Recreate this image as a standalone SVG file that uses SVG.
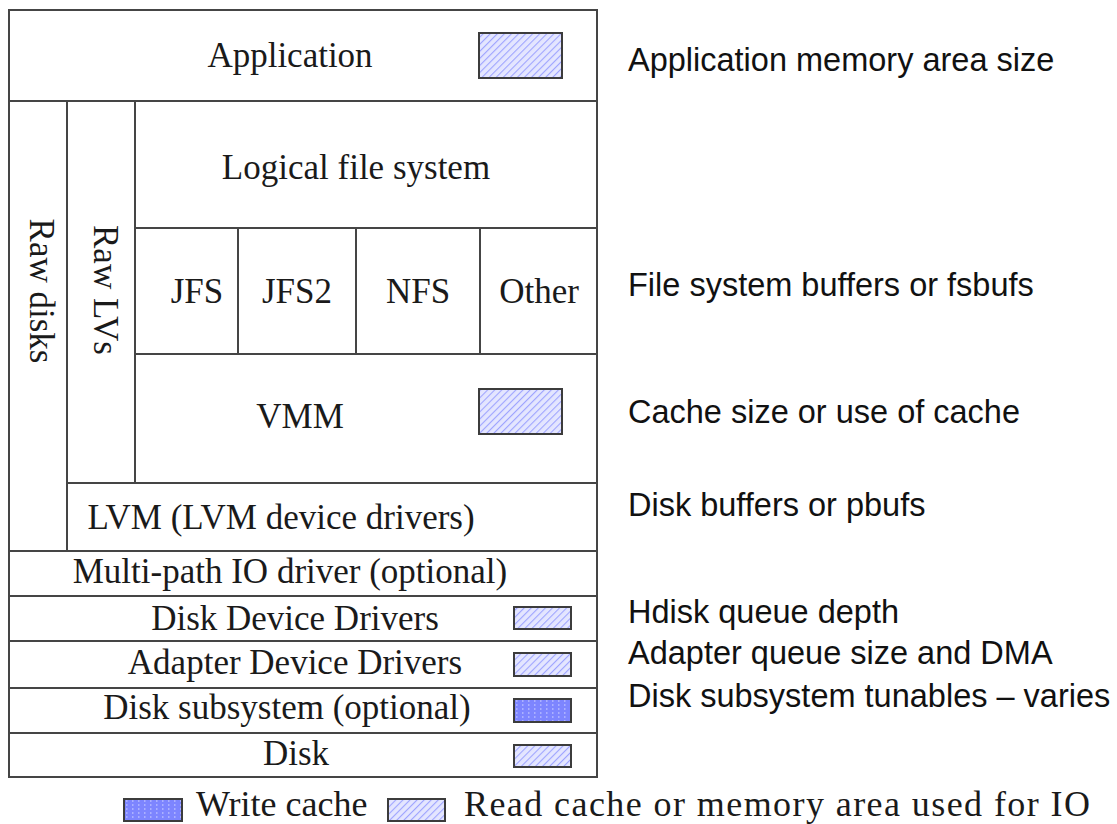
<svg xmlns="http://www.w3.org/2000/svg" width="1117" height="824" viewBox="0 0 1117 824">
  <defs>
    <!-- read cache / memory area: pale blue with diagonal hatching -->
    <pattern id="hatch" patternUnits="userSpaceOnUse" width="5" height="5" patternTransform="rotate(45)">
      <rect width="5" height="5" fill="#e4e6ff"/>
      <line x1="0" y1="0" x2="0" y2="5" stroke="#9ea4ff" stroke-width="2.2"/>
    </pattern>
    <!-- write cache: solid blue with a faint dotted grid -->
    <pattern id="grid" patternUnits="userSpaceOnUse" width="6" height="4">
      <rect width="6" height="4" fill="#7d85ff"/>
      <rect x="0" y="0" width="1.5" height="2" fill="#aab0ff"/>
    </pattern>
    <style>
      .cell { fill: #ffffff; stroke: #454545; stroke-width: 2; }
      .lbl { font-family: "Liberation Serif", "Times New Roman", serif; font-size: 35px; fill: #1a1a1a; text-anchor: middle; }
      .note { font-family: "Liberation Sans", Arial, sans-serif; font-size: 32.5px; fill: #111111; }
      .leg { font-family: "Liberation Serif", "Times New Roman", serif; font-size: 36px; fill: #1a1a1a; }
      .rd { fill: url(#hatch); stroke: #3c3c3c; stroke-width: 2; }
      .wr { fill: url(#grid); stroke: #3c3c3c; stroke-width: 2; }
    </style>
  </defs>

  <rect width="1117" height="824" fill="#ffffff"/>

  <!-- layer stack -->
  <g id="application">
    <rect class="cell" x="9" y="10" width="588" height="91"/>
    <text class="lbl" x="290" y="67">Application</text>
    <rect class="rd" x="479" y="33" width="83" height="45"/>
  </g>
  <g id="raw-disks">
    <rect class="cell" x="9" y="101" width="58" height="450"/>
    <text class="lbl" transform="translate(30,291) rotate(90)">Raw disks</text>
  </g>
  <g id="raw-lvs">
    <rect class="cell" x="67" y="101" width="68" height="382"/>
    <text class="lbl" transform="translate(94,290) rotate(90)">Raw LVs</text>
  </g>
  <g id="logical-fs">
    <rect class="cell" x="135" y="101" width="462" height="127"/>
    <text class="lbl" x="356" y="179">Logical file system</text>
  </g>
  <g id="jfs">
    <rect class="cell" x="135" y="228" width="103" height="126"/>
    <text class="lbl" x="197" y="303">JFS</text>
  </g>
  <g id="jfs2">
    <rect class="cell" x="238" y="228" width="118" height="126"/>
    <text class="lbl" x="297" y="303">JFS2</text>
  </g>
  <g id="nfs">
    <rect class="cell" x="356" y="228" width="124" height="126"/>
    <text class="lbl" x="418" y="303">NFS</text>
  </g>
  <g id="other">
    <rect class="cell" x="480" y="228" width="117" height="126"/>
    <text class="lbl" x="539" y="303">Other</text>
  </g>
  <g id="vmm">
    <rect class="cell" x="135" y="354" width="462" height="129"/>
    <text class="lbl" x="300" y="428">VMM</text>
    <rect class="rd" x="479" y="389" width="83" height="45"/>
  </g>
  <g id="lvm">
    <rect class="cell" x="67" y="483" width="530" height="68"/>
    <text class="lbl" x="281" y="529">LVM (LVM device drivers)</text>
  </g>
  <g id="multipath">
    <rect class="cell" x="9" y="551" width="588" height="45"/>
    <text class="lbl" x="290" y="583">Multi-path IO driver (optional)</text>
  </g>
  <g id="disk-device-drivers">
    <rect class="cell" x="9" y="596" width="588" height="45"/>
    <text class="lbl" x="295" y="630">Disk Device Drivers</text>
    <rect class="rd" x="514" y="607" width="57" height="22"/>
  </g>
  <g id="adapter-device-drivers">
    <rect class="cell" x="9" y="641" width="588" height="47"/>
    <text class="lbl" x="295" y="674">Adapter Device Drivers</text>
    <rect class="rd" x="514" y="653" width="57" height="23"/>
  </g>
  <g id="disk-subsystem">
    <rect class="cell" x="9" y="688" width="588" height="45"/>
    <text class="lbl" x="287" y="719">Disk subsystem (optional)</text>
    <rect class="wr" x="514" y="699" width="57" height="23"/>
  </g>
  <g id="disk">
    <rect class="cell" x="9" y="733" width="588" height="44"/>
    <text class="lbl" x="296" y="765">Disk</text>
    <rect class="rd" x="514" y="745" width="57" height="22"/>
  </g>

  <!-- no connectors in this diagram -->
  <g id="connectors"/>

  <!-- tunables per layer -->
  <g id="notes">
    <text class="note" x="628" y="71">Application memory area size</text>
    <text class="note" x="628" y="296">File system buffers or fsbufs</text>
    <text class="note" x="628" y="423">Cache size or use of cache</text>
    <text class="note" x="628" y="516">Disk buffers or pbufs</text>
    <text class="note" x="628" y="623">Hdisk queue depth</text>
    <text class="note" x="628" y="664">Adapter queue size and DMA</text>
    <text class="note" x="628" y="707">Disk subsystem tunables – varies</text>
  </g>

  <!-- legend -->
  <g id="legend">
    <rect class="wr" x="124" y="799" width="58" height="22"/>
    <text class="leg" x="196" y="816">Write cache</text>
    <rect class="rd" x="388" y="799" width="57" height="22"/>
    <text class="leg" x="464" y="816" textLength="626" lengthAdjust="spacing">Read cache or memory area used for IO</text>
  </g>
</svg>
